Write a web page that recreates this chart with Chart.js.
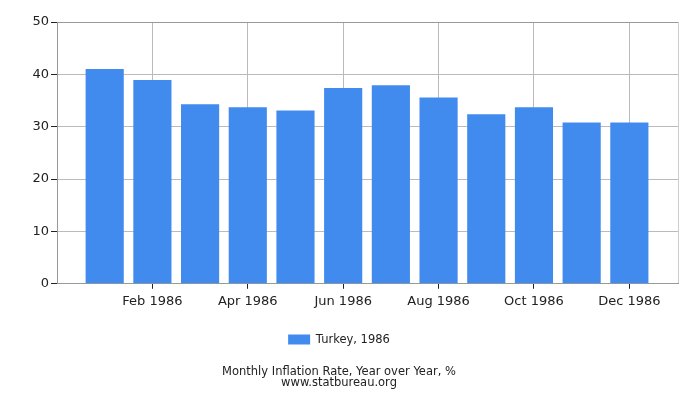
<!DOCTYPE html>
<html>
<head>
<meta charset="utf-8">
<script src="https://cdn.jsdelivr.net/npm/chart.js@4"></script>
<style>
  html, body { margin: 0; padding: 0; background: #fff; }
  #wrap { width: 700px; height: 400px; }
</style>
</head>
<body>
<div id="wrap"><canvas id="chart" width="700" height="400"></canvas></div>
<script>
const months = ['Jan 1986', 'Feb 1986', 'Mar 1986', 'Apr 1986', 'May 1986', 'Jun 1986',
                'Jul 1986', 'Aug 1986', 'Sep 1986', 'Oct 1986', 'Nov 1986', 'Dec 1986'];
const inflation = [41.0, 38.9, 34.3, 33.7, 33.1, 37.4, 37.9, 35.6, 32.4, 33.7, 30.8, 30.8];
const xTicks = [2, 4, 6, 8, 10, 12];
const yTicks = [0, 10, 20, 30, 40, 50];
const seriesLabel = 'Turkey, 1986';
const caption = ['Monthly Inflation Rate, Year over Year, %', 'www.statbureau.org'];

const X_MAX = 13.02;
const font = "'DejaVu Sans', sans-serif";

new Chart(document.getElementById('chart').getContext('2d'), {
  type: 'bar',
  data: {
    datasets: [{
      label: seriesLabel,
      data: inflation.map((v, i) => ({ x: i + 1, y: v })),
      backgroundColor: '#428bee',
      borderWidth: 0,
      barPercentage: 0.8,
      categoryPercentage: 1.0
    }]
  },
  options: {
    responsive: false,
    animation: false,
    layout: { padding: { left: 0, right: 22, top: 22, bottom: 12 } },
    scales: {
      x: {
        type: 'linear',
        min: 0,
        max: X_MAX,
        offset: false,
        afterBuildTicks: s => { s.ticks = xTicks.concat([X_MAX]).map(v => ({ value: v })); },
        afterFit: s => { s.height = 34; },
        ticks: {
          autoSkip: false,
          maxRotation: 0,
          padding: 5,
          color: '#222',
          font: { family: font, size: 13 },
          callback: v => (Number.isInteger(v) ? months[v - 1] : '')
        },
        grid: {
          offset: false,
          color: c => (c.tick && c.tick.value === X_MAX ? '#ccc' : '#bbb'),
          tickColor: c => (c.tick && c.tick.value === X_MAX ? 'rgba(0,0,0,0)' : '#222'),
          tickLength: 5,
          lineWidth: 1
        },
        border: { color: '#999' }
      },
      y: {
        min: 0,
        max: 50,
        afterBuildTicks: s => { s.ticks = yTicks.map(v => ({ value: v })); },
        afterFit: s => { s.width = 57; },
        ticks: {
          padding: 2,
          color: '#222',
          font: { family: font, size: 13 }
        },
        grid: {
          color: c => (c.tick && c.tick.value === 50 ? '#999' : '#bbb'),
          tickColor: '#222',
          tickLength: 6
        },
        border: { color: '#999' }
      }
    },
    plugins: {
      legend: {
        position: 'bottom',
        labels: {
          boxWidth: 22,
          boxHeight: 10,
          padding: 16,
          color: '#222',
          font: { family: font, size: 11.5 }
        }
      },
      title: {
        display: true,
        position: 'bottom',
        text: caption,
        color: '#222',
        font: { family: font, size: 11.5, weight: 'normal', lineHeight: 0.9 },
        padding: { top: 12, bottom: 0 }
      },
      tooltip: { enabled: false }
    }
  }
});
</script>
</body>
</html>
